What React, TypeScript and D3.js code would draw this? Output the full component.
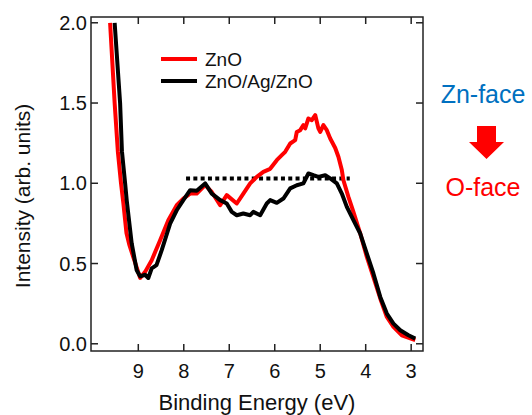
import React from 'react';
import * as d3 from 'd3';

// binding energy (eV) / intensity pairs
const znoEnergy = [9.62, 9.52, 9.45, 9.38, 9.33, 9.26, 9.2, 9.11, 8.96, 8.85, 8.705, 8.52, 8.34, 8.155, 8.01, 7.86, 7.715, 7.53, 7.385, 7.2, 7.055, 6.835, 6.69, 6.54, 6.395, 6.25, 6.1, 5.955, 5.845, 5.77, 5.66, 5.55, 5.515, 5.44, 5.37, 5.33, 5.26, 5.185, 5.11, 5.04, 5.0, 4.93, 4.855, 4.78, 4.67, 4.6, 4.525, 4.49, 4.38, 4.27, 4.12, 3.975, 3.83, 3.68, 3.535, 3.39, 3.205, 2.91];
const znoIntensity = [2.0, 1.5, 1.2, 1.0, 0.88, 0.69, 0.62, 0.54, 0.41, 0.448, 0.521, 0.645, 0.77, 0.863, 0.905, 0.936, 0.936, 0.988, 0.946, 0.863, 0.926, 0.874, 0.936, 0.999, 1.04, 1.071, 1.09, 1.144, 1.175, 1.196, 1.248, 1.269, 1.32, 1.331, 1.362, 1.342, 1.404, 1.393, 1.425, 1.342, 1.32, 1.362, 1.331, 1.279, 1.22, 1.165, 1.082, 1.019, 0.915, 0.822, 0.687, 0.541, 0.416, 0.282, 0.167, 0.105, 0.053, 0.022];

const stackEnergy = [9.52, 9.4, 9.36, 9.29, 9.255, 9.145, 9.035, 8.96, 8.85, 8.78, 8.705, 8.6, 8.485, 8.3, 8.155, 8.01, 7.86, 7.715, 7.53, 7.385, 7.2, 7.055, 6.945, 6.835, 6.69, 6.54, 6.47, 6.32, 6.175, 6.1, 5.955, 5.81, 5.66, 5.515, 5.37, 5.26, 5.15, 5.04, 4.89, 4.78, 4.635, 4.525, 4.415, 4.27, 4.12, 3.975, 3.83, 3.68, 3.535, 3.39, 3.24, 3.06, 2.91];
const stackIntensity = [2.0, 1.5, 1.2, 1.0, 0.895, 0.625, 0.458, 0.42, 0.43, 0.41, 0.47, 0.49, 0.583, 0.749, 0.832, 0.895, 0.957, 0.953, 0.999, 0.936, 0.895, 0.874, 0.822, 0.801, 0.812, 0.801, 0.822, 0.801, 0.874, 0.895, 0.878, 0.905, 0.968, 0.988, 0.999, 1.061, 1.05, 1.04, 1.05, 1.03, 0.999, 0.936, 0.853, 0.77, 0.687, 0.562, 0.438, 0.292, 0.188, 0.126, 0.084, 0.053, 0.032];

const seriesNames = ['ZnO', 'ZnO/Ag/ZnO'];
const seriesColors = ['#ff0000', '#000000'];

// dotted reference level
const refStart = 7.95;
const refEnd = 4.35;
const refLevel = 1.03;

const xTicks = [9, 8, 7, 6, 5, 4, 3];
const yTicks = [0, 0.5, 1, 1.5, 2];

const W = 532;
const H = 415;
const margin = { top: 17, right: 109, bottom: 64, left: 91 };
const FONT = '"Liberation Sans", Arial, Helvetica, sans-serif';

export default function App() {
  const width = W - margin.left - margin.right;
  const height = H - margin.top - margin.bottom;

  const x = d3.scaleLinear().domain([10.04, 2.74]).range([0, width]);
  const y = d3.scaleLinear().domain([-0.045, 2.036]).range([height, 0]);

  const line = d3.line<[number, number]>()
    .x(d => x(d[0]))
    .y(d => y(d[1]));

  const series = [
    { name: seriesNames[0], color: seriesColors[0], pts: znoEnergy.map((e, i) => [e, znoIntensity[i]] as [number, number]) },
    { name: seriesNames[1], color: seriesColors[1], pts: stackEnergy.map((e, i) => [e, stackIntensity[i]] as [number, number]) },
  ];

  const tick = 7;

  return (
    <svg width={W} height={H} style={{ position: 'absolute', left: 0, top: 0, fontFamily: FONT }}>
      <rect width={W} height={H} fill="#fff" />
      <g transform={`translate(${margin.left},${margin.top})`}>
        <defs>
          <clipPath id="plot-clip">
            <rect width={width} height={height} />
          </clipPath>
        </defs>

        <g clipPath="url(#plot-clip)">
          <line x1={x(refStart)} x2={x(refEnd)} y1={y(refLevel)} y2={y(refLevel)}
            stroke="#000" strokeWidth={4} strokeDasharray="4,3.3" />
          {series.map(s => (
            <path key={s.name} d={line(s.pts) || ''} fill="none" stroke={s.color}
              strokeWidth={4} strokeLinejoin="round" />
          ))}
        </g>

        {/* frame */}
        <rect width={width} height={height} fill="none" stroke="#222" strokeWidth={1.5} />

        {xTicks.map(t => (
          <g key={'x' + t}>
            <line x1={x(t)} x2={x(t)} y1={height} y2={height - tick} stroke="#222" strokeWidth={1.5} />
            <line x1={x(t)} x2={x(t)} y1={0} y2={tick} stroke="#222" strokeWidth={1.5} />
            <text x={x(t)} y={height + 27} textAnchor="middle" fontSize={20} fill="#111">{t}</text>
          </g>
        ))}
        {yTicks.map(t => (
          <g key={'y' + t}>
            <line x1={0} x2={tick} y1={y(t)} y2={y(t)} stroke="#222" strokeWidth={1.5} />
            <line x1={width} x2={width - tick} y1={y(t)} y2={y(t)} stroke="#222" strokeWidth={1.5} />
            <text x={-4} y={y(t)} dy="0.36em" textAnchor="end" fontSize={20} fill="#111">{t.toFixed(1)}</text>
          </g>
        ))}

        <text x={width / 2} y={height + 59} textAnchor="middle" fontSize={22} fill="#111">Binding Energy (eV)</text>
        <text transform={`translate(${-margin.left + 30},${height / 2 + 12}) rotate(-90)`} textAnchor="middle" fontSize={21} fill="#111">Intensity (arb. units)</text>

        {/* legend */}
        {series.map((s, i) => (
          <g key={'lg' + s.name} transform={`translate(70,${42 + i * 22})`}>
            <line x1={0} x2={36} y1={0} y2={0} stroke={s.color} strokeWidth={4} />
            <text x={44} y={0} dy="0.36em" fontSize={19} fill="#111">{s.name}</text>
          </g>
        ))}
      </g>

      {/* face annotation */}
      <g transform="translate(483,0)">
        <text y={103} textAnchor="middle" fontSize={25} fill="#0070c0">Zn-face</text>
        <path d="M-6,126 L13,126 L13,142 L21,142 L3.5,159 L-14,142 L-6,142 Z" fill="#ff0000" />
        <text y={196} textAnchor="middle" fontSize={25} fill="#ff0000">O-face</text>
      </g>
    </svg>
  );
}
